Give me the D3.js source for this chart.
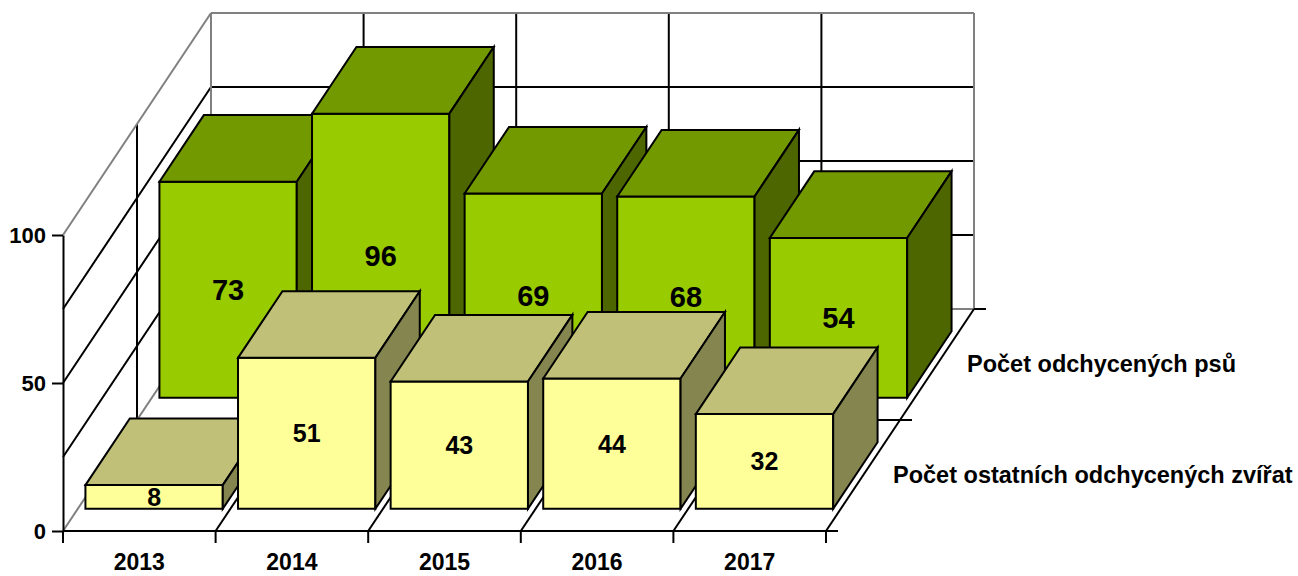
<!DOCTYPE html>
<html>
<head>
<meta charset="utf-8">
<script src="https://cdn.jsdelivr.net/npm/d3@7"></script>
<style>
  body { margin: 0; background: #fff; }
  text { font-family: Arial, "Liberation Sans", sans-serif; font-weight: bold; fill: #000; }
</style>
</head>
<body>
<script>
// data
var years = ["2013", "2014", "2015", "2016", "2017"];
var seriesNames = ["Počet ostatních odchycených zvířat", "Počet odchycených psů"];
var otherAnimals = [8, 51, 43, 44, 32];
var dogs = [73, 96, 69, 68, 54];
var yTickLabels = [0, 50, 100];
var gridValues = [25, 50, 75];

var width = 1298, height = 576;
var left = 63, right = 826, bottom = 531, top100 = 235;
var depthX = 148, depthY = -222; // offset of the back wall

var colors = [
    { front: "#FFFF99", top: "#C0C078", side: "#858550" },
    { front: "#99CC00", top: "#739900", side: "#4D6600" }
];
var seriesValues = [otherAnimals, dogs];

var xCat = d3.scaleBand().domain(years).range([left, right]);
var x = d3.scaleBand().domain(years).range([left, right]).paddingInner(0.1).paddingOuter(0.05);
var y = d3.scaleLinear().domain([0, 100]).range([bottom, top100]);
var zCat = d3.scaleBand().domain(seriesNames).range([0, 1]);
var z = d3.scaleBand().domain(seriesNames).range([0, 1]).paddingInner(0.4).paddingOuter(0.2);

// projection: screen x/y at depth d (0 = front, 1 = back)
function P(px, py, d) {
    return [px + d * depthX, py + d * depthY];
}

var svg = d3.select("body").append("svg")
    .attr("width", width)
    .attr("height", height);

// walls and floor
var lines = [];
var boundaries = years.map(function(k) { return xCat(k); }).slice(1);
var y0 = y(0);

gridValues.forEach(function(v) {
    lines.push({ a: P(left, y(v), 1), b: P(right, y(v), 1), c: "#000" });
    lines.push({ a: P(left, y(v), 0), b: P(left, y(v), 1), c: "#000" });
});
boundaries.forEach(function(bx) {
    lines.push({ a: P(bx, y0, 1), b: P(bx, y(100), 1), c: "#000" });
    lines.push({ a: P(bx, y0, 0), b: P(bx, y0, 1), c: "#000" });
});
lines.push({ a: P(left, y0, zCat.step()), b: P(left, y(100), zCat.step()), c: "#000" });
lines.push({ a: P(left, y0, zCat.step()), b: P(right, y0, zCat.step()), c: "#000" });
// grey outer edges
lines.push({ a: P(left, y(100), 1), b: P(right, y(100), 1), c: "#808080" });
lines.push({ a: P(left, y(100), 0), b: P(left, y(100), 1), c: "#808080" });
lines.push({ a: P(left, y0, 1), b: P(left, y(100), 1), c: "#808080" });
lines.push({ a: P(right, y0, 1), b: P(right, y(100), 1), c: "#808080" });
lines.push({ a: P(left, y0, 0), b: P(left, y0, 1), c: "#808080" });
lines.push({ a: P(left, y0, 1), b: P(right, y0, 1), c: "#808080" });
// right floor edge and depth ticks
lines.push({ a: P(right, y0, 0), b: P(right, y0, 1), c: "#000" });
[0, zCat.step(), 1].forEach(function(d) {
    var p = P(right, y0, d);
    lines.push({ a: p, b: [p[0] + 12, p[1]], c: "#000" });
});

svg.append("g").selectAll("line").data(lines).enter()
    .append("line")
    .attr("x1", function(d) { return d.a[0]; })
    .attr("y1", function(d) { return d.a[1]; })
    .attr("x2", function(d) { return d.b[0]; })
    .attr("y2", function(d) { return d.b[1]; })
    .attr("stroke", function(d) { return d.c; })
    .attr("stroke-width", 2);

// bars, back series first
var barGroup = svg.append("g");
[1, 0].forEach(function(s) {
    var d0 = z(seriesNames[s]), d1 = d0 + z.bandwidth();
    years.forEach(function(yr, i) {
        var v = seriesValues[s][i];
        var xl = x(yr), xr = xl + x.bandwidth(), yt = y(v);
        var faces = [
            { pts: [P(xl, yt, d0), P(xr, yt, d0), P(xr, y0, d0), P(xl, y0, d0)], fill: colors[s].front },
            { pts: [P(xl, yt, d0), P(xr, yt, d0), P(xr, yt, d1), P(xl, yt, d1)], fill: colors[s].top },
            { pts: [P(xr, yt, d0), P(xr, yt, d1), P(xr, y0, d1), P(xr, y0, d0)], fill: colors[s].side }
        ];
        var g = barGroup.append("g");
        g.selectAll("polygon").data(faces).enter()
            .append("polygon")
            .attr("points", function(f) { return f.pts.map(function(p) { return p.join(","); }).join(" "); })
            .attr("fill", function(f) { return f.fill; })
            .attr("stroke", "#000")
            .attr("stroke-width", 2)
            .attr("stroke-linejoin", "miter");
        var c = P((xl + xr) / 2, (yt + y0) / 2, d0);
        g.append("text")
            .attr("x", c[0])
            .attr("y", c[1])
            .attr("text-anchor", "middle")
            .attr("dominant-baseline", "central")
            .style("font-size", s == 1 ? "29px" : "25px")
            .text(v);
    });
});

// vertical axis
var yAxis = d3.axisLeft(y).tickValues(yTickLabels).tickSize(11).tickSizeOuter(0).tickPadding(6);
var yg = svg.append("g").attr("transform", "translate(" + left + ",0)").call(yAxis);
yg.selectAll("path, line").attr("stroke", "#000").attr("stroke-width", 2);
yg.selectAll("text").style("font-size", "22px").style("font-family", "Arial, 'Liberation Sans', sans-serif").attr("fill", "#000");

// category axis
svg.append("line")
    .attr("x1", left).attr("x2", right + 12)
    .attr("y1", y0).attr("y2", y0)
    .attr("stroke", "#000").attr("stroke-width", 2);
svg.append("g").selectAll("line").data([left].concat(boundaries).concat([right])).enter()
    .append("line")
    .attr("x1", function(d) { return d; }).attr("x2", function(d) { return d; })
    .attr("y1", y0).attr("y2", y0 + 12)
    .attr("stroke", "#000").attr("stroke-width", 2);
svg.append("g").selectAll("text").data(years).enter()
    .append("text")
    .attr("x", function(d) { return xCat(d) + xCat.bandwidth() / 2; })
    .attr("y", 570)
    .attr("text-anchor", "middle")
    .style("font-size", "23px")
    .text(function(d) { return d; });

// series labels along the depth axis
svg.append("g").selectAll("text").data(seriesNames).enter()
    .append("text")
    .attr("x", function(d) { return P(right, y0, zCat(d) + zCat.bandwidth() / 2)[0] + 30; })
    .attr("y", function(d) { return P(right, y0, zCat(d) + zCat.bandwidth() / 2)[1] + 7; })
    .style("font-size", "23.5px")
    .text(function(d) { return d; });
</script>
</body>
</html>
